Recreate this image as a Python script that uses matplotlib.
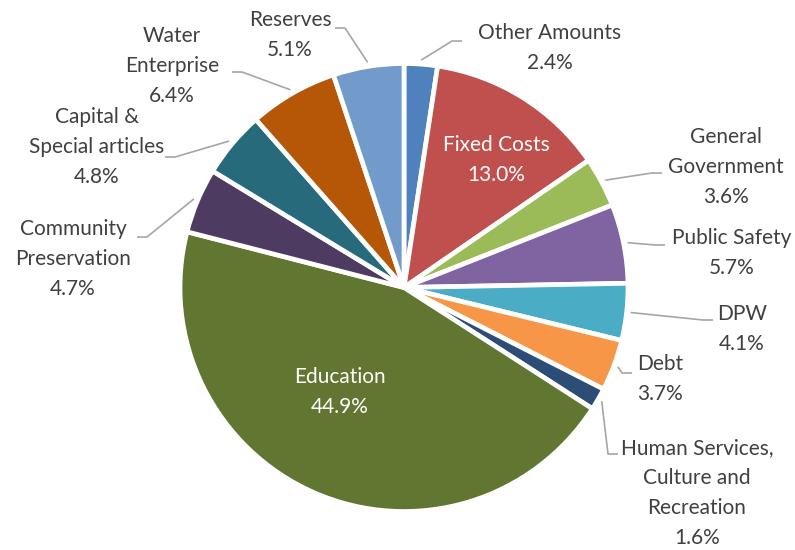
import matplotlib
matplotlib.use("Agg")
import matplotlib.pyplot as plt
import numpy as np

plt.rcParams["font.family"] = ["Lato", "DejaVu Sans"]

# data, clockwise from 12 o'clock
CATEGORIES = [
    "Other Amounts", "Fixed Costs", "General\nGovernment", "Public Safety",
    "DPW", "Debt", "Human Services,\nCulture and\nRecreation", "Education",
    "Community\nPreservation", "Capital &\nSpecial articles", "Water\nEnterprise",
    "Reserves",
]
SHARES = [2.4, 13.0, 3.6, 5.7, 4.1, 3.7, 1.6, 44.9, 4.7, 4.8, 6.4, 5.1]
COLORS = [
    "#4F81BD", "#C0504D", "#9BBB59", "#8064A2", "#4BACC6", "#F79646",
    "#2C4D75", "#617631", "#4D3B62", "#276A7C", "#B65708", "#729ACA",
]

# layout (pixel coords, y down): label centre, leader end (None = inside label)
LABEL_POS = [
    (550, 48), (496, 160), (726, 167), (732, 253), (742, 329), (660, 379),
    (697, 493), (340, 392), (73, 259), (97, 147), (172, 66), (290, 35),
]
LEADER_END = [
    (462, 41), None, (662, 173), (665, 245), (713, 320), (632, 373),
    (618, 454), None, (137, 237), (165, 157), (232, 72), (335, 28),
]
INSIDE_WHITE = {1, 7}

W, H = 795, 550
CX, CY, R = 404, 287.5, 224
EXPLODE = 0.018


def flip(p):
    return p[0], H - p[1]


fig = plt.figure(figsize=(W / 100, H / 100), dpi=100)
ax = fig.add_axes([0, 0, 1, 1])

wedges, _ = ax.pie(
    SHARES, colors=COLORS, startangle=90, counterclock=False,
    center=flip((CX, CY)), radius=R, explode=[EXPLODE] * len(SHARES),
    wedgeprops=dict(edgecolor="white", linewidth=3.4),
)
ax.set_xlim(0, W)
ax.set_ylim(0, H)
ax.set_aspect("equal")
ax.axis("off")

total = sum(SHARES)
cum = np.cumsum([0] + SHARES[:-1])
for i, (name, val) in enumerate(zip(CATEGORIES, SHARES)):
    txt = f"{name}\n{val:.1f}%"
    lx, ly = flip(LABEL_POS[i])
    color = "white" if i in INSIDE_WHITE else "#404040"
    ax.text(lx, ly, txt, ha="center", va="center", fontsize=15,
            color=color, linespacing=1.64)
    if LEADER_END[i] is None:
        continue
    # start just outside the rim of the exploded slice, at its mid angle
    mid = np.deg2rad(90 - (cum[i] + val / 2) / total * 360)
    rr = R * (1 + EXPLODE)
    sx, sy = CX + rr * np.cos(mid), CY - rr * np.sin(mid)
    ex, ey = LEADER_END[i]
    side = 1 if ex > CX else -1
    elbow = (ex - side * 10, ey)
    xs, ys = zip(*[flip((sx, sy)), flip(elbow), flip((ex, ey))])
    ax.plot(xs, ys, color="#A6A6A6", linewidth=1.2, solid_capstyle="butt")

fig.savefig("out.png", dpi=100)
